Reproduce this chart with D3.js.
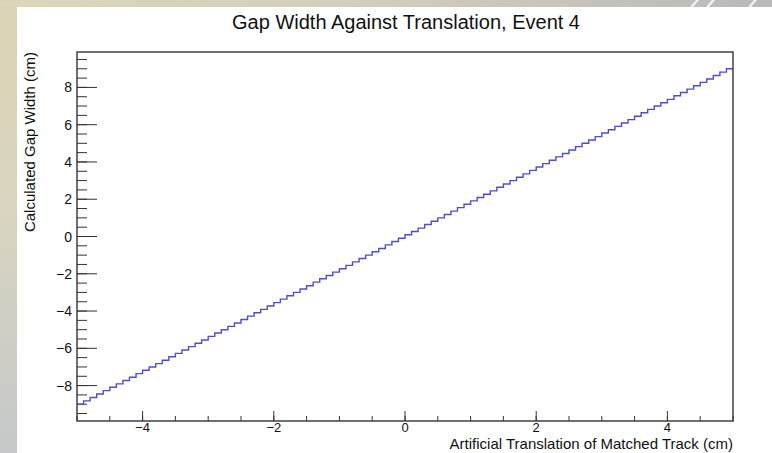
<!DOCTYPE html>
<html>
<head>
<meta charset="utf-8">
<script src="https://cdn.jsdelivr.net/npm/d3@7"></script>
<style>
  body { margin: 0; background: #fff; }
  svg { display: block; font-family: "Liberation Sans", Arial, Helvetica, sans-serif; }
</style>
</head>
<body>
<div id="chart"></div>
<script>
// histogram: 100 bins from -5 to 5
const binLow = -5;
const binWidth = 0.1;
const binValues = [
  -9.00, -8.82, -8.64, -8.45, -8.27, -8.09, -7.91, -7.73, -7.55, -7.36,
  -7.18, -7.00, -6.82, -6.64, -6.45, -6.27, -6.09, -5.91, -5.73, -5.55,
  -5.36, -5.18, -5.00, -4.82, -4.64, -4.45, -4.27, -4.09, -3.91, -3.73,
  -3.55, -3.36, -3.18, -3.00, -2.82, -2.64, -2.45, -2.27, -2.09, -1.91,
  -1.73, -1.55, -1.36, -1.18, -1.00, -0.82, -0.64, -0.45, -0.27, -0.09,
   0.09,  0.27,  0.45,  0.64,  0.82,  1.00,  1.18,  1.36,  1.55,  1.73,
   1.91,  2.09,  2.27,  2.45,  2.64,  2.82,  3.00,  3.18,  3.36,  3.55,
   3.73,  3.91,  4.09,  4.27,  4.45,  4.64,  4.82,  5.00,  5.18,  5.36,
   5.55,  5.73,  5.91,  6.09,  6.27,  6.45,  6.64,  6.82,  7.00,  7.18,
   7.36,  7.55,  7.73,  7.91,  8.09,  8.27,  8.45,  8.64,  8.82,  9.00
];

const xMajor = [-4, -2, 0, 2, 4];
const yMajor = [-8, -6, -4, -2, 0, 2, 4, 6, 8];
const xMinor = d3.range(-5, 5.001, 0.5);
const yMinor = d3.range(-9.5, 9.501, 0.5);

const titleText = "Gap Width Against Translation, Event 4";
const xTitle = "Artificial Translation of Matched Track (cm)";
const yTitle = "Calculated Gap Width (cm)";

const width = 772, height = 453;
const frame = { left: 77, right: 733, top: 52, bottom: 421 };

const svg = d3.select("#chart").append("svg")
  .attr("width", width).attr("height", height);

// slide background
const defs = svg.append("defs");
const gTop = defs.append("linearGradient").attr("id", "gtop");
gTop.append("stop").attr("offset", "0%").attr("stop-color", "#dcd6ba");
gTop.append("stop").attr("offset", "45%").attr("stop-color", "#d3cfbd");
gTop.append("stop").attr("offset", "100%").attr("stop-color", "#b9b9b9");
const gLeft = defs.append("linearGradient").attr("id", "gleft")
  .attr("x1", 0).attr("y1", 0).attr("x2", 0).attr("y2", 1);
gLeft.append("stop").attr("offset", "0%").attr("stop-color", "#dad3b4");
gLeft.append("stop").attr("offset", "45%").attr("stop-color", "#d9d5c0");
gLeft.append("stop").attr("offset", "100%").attr("stop-color", "#c5c8c9");

svg.append("rect").attr("width", width).attr("height", height).attr("fill", "url(#gleft)");
svg.append("rect").attr("width", width).attr("height", 7).attr("fill", "url(#gtop)");
[690, 706, 748].forEach(x0 => {
  svg.append("path")
    .attr("d", `M${x0},7 L${x0 + 6},0 L${x0 + 9},0 L${x0 + 3},7 Z`)
    .attr("fill", "#f4f4f4");
});
svg.append("rect").attr("x", 17).attr("y", 7)
  .attr("width", width - 17).attr("height", height - 7).attr("fill", "#fff");

// scales
const x = d3.scaleLinear().domain([-5, 5]).range([frame.left, frame.right]);
const y = d3.scaleLinear().domain([-9.9, 9.9]).range([frame.bottom, frame.top]);

// x axis ticks
const ax = svg.append("g").attr("stroke", "#333").attr("stroke-width", 1);
ax.selectAll("line.xminor").data(xMinor).join("line")
  .attr("x1", d => x(d)).attr("x2", d => x(d))
  .attr("y1", frame.bottom).attr("y2", frame.bottom - 5);
ax.selectAll("line.xmajor").data(xMajor).join("line")
  .attr("class", "xmajor")
  .attr("x1", d => x(d)).attr("x2", d => x(d))
  .attr("y1", frame.bottom).attr("y2", frame.bottom - 10);

// y axis ticks
ax.selectAll("line.yminor").data(yMinor).join("line")
  .attr("class", "yminor")
  .attr("x1", frame.left).attr("x2", frame.left + 10)
  .attr("y1", d => y(d)).attr("y2", d => y(d));
ax.selectAll("line.ymajor").data(yMajor).join("line")
  .attr("class", "ymajor")
  .attr("x1", frame.left).attr("x2", frame.left + 20)
  .attr("y1", d => y(d)).attr("y2", d => y(d));

const fmt = d => d < 0 ? "\u2212" + Math.abs(d) : String(d);

svg.selectAll("text.xlab").data(xMajor).join("text")
  .attr("class", "xlab")
  .attr("x", d => x(d)).attr("y", 432)
  .attr("text-anchor", "middle")
  .style("font-size", "13px").attr("fill", "#111")
  .text(fmt);

svg.selectAll("text.ylab").data(yMajor).join("text")
  .attr("class", "ylab")
  .attr("x", 72).attr("y", d => y(d)).attr("dy", "0.36em")
  .attr("text-anchor", "end")
  .style("font-size", "14px").attr("fill", "#111")
  .text(fmt);

// histogram step line
const steps = [];
binValues.forEach((v, i) => {
  steps.push([binLow + i * binWidth, v]);
  steps.push([binLow + (i + 1) * binWidth, v]);
});
svg.append("path")
  .datum(steps)
  .attr("fill", "none")
  .attr("stroke", "#4f4fc4")
  .attr("stroke-width", 1.4)
  .attr("d", d3.line().x(d => x(d[0])).y(d => y(d[1])));

// frame
svg.append("rect")
  .attr("x", frame.left).attr("y", frame.top)
  .attr("width", frame.right - frame.left).attr("height", frame.bottom - frame.top)
  .attr("fill", "none").attr("stroke", "#333").attr("stroke-width", 1.4);

// titles
svg.append("text")
  .attr("x", 406).attr("y", 29)
  .attr("text-anchor", "middle")
  .style("font-size", "20px").attr("fill", "#111")
  .text(titleText);

svg.append("text")
  .attr("x", frame.right).attr("y", 449)
  .attr("text-anchor", "end")
  .style("font-size", "15px").attr("fill", "#111")
  .text(xTitle);

svg.append("text")
  .attr("transform", `translate(35,${frame.top}) rotate(-90)`)
  .attr("text-anchor", "end")
  .style("font-size", "15px").attr("fill", "#111")
  .text(yTitle);
</script>
</body>
</html>
